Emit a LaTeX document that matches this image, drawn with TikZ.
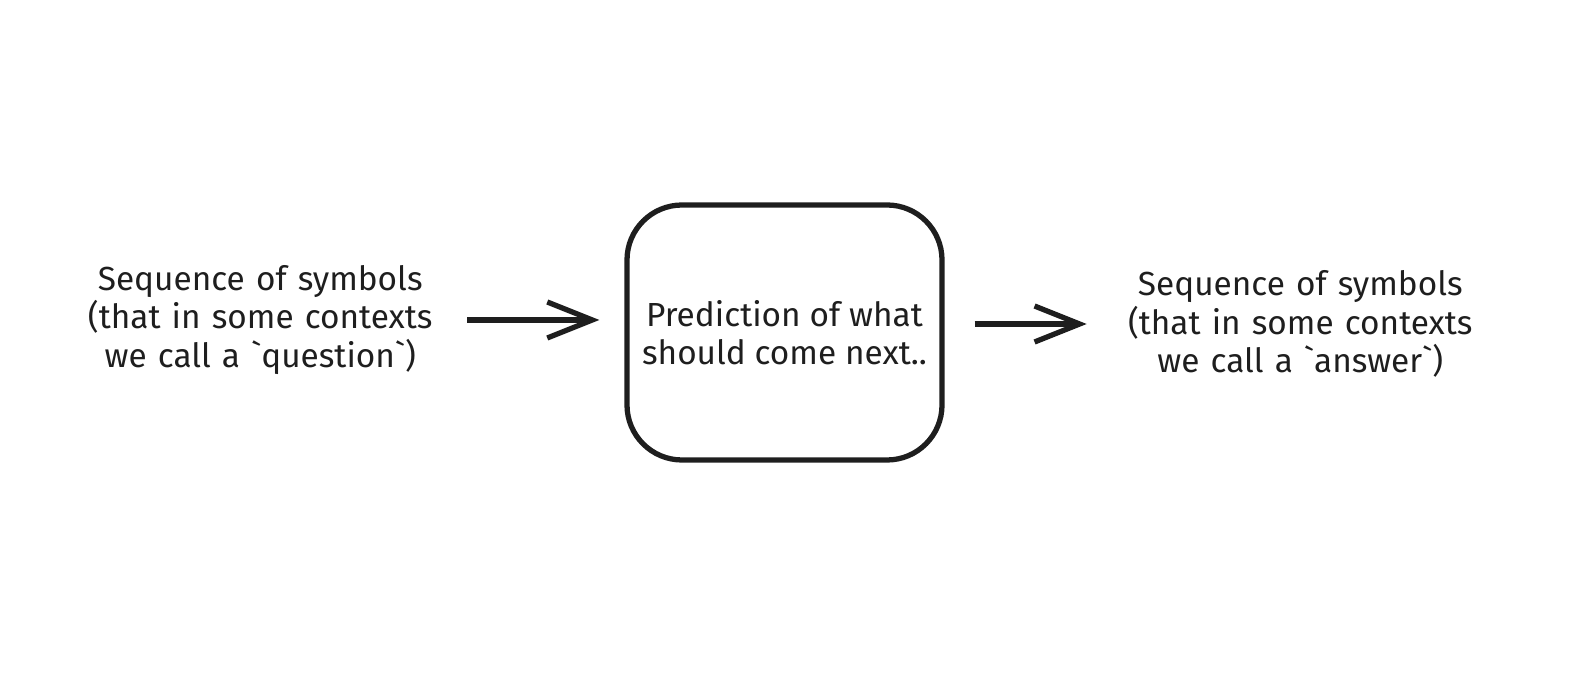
\documentclass[tikz,border=0pt]{standalone}
\usepackage{fontspec}
\setmainfont{Fira Sans}
\usepackage{xcolor}
\usepackage{tikz}
\usetikzlibrary{positioning,arrows.meta}

\definecolor{ink}{HTML}{1E1E1E}

\begin{document}
\begin{tikzpicture}[->,>={Straight Barb[length=0.9cm,width=0.72cm]},line width=3pt,draw=ink,text=ink]

  \useasboundingbox (0,0) rectangle (31.56,13.98);

  % styles
  \tikzstyle{block}=[draw,rounded corners=1.1cm,minimum width=6.3cm,minimum height=5.1cm,inner sep=0pt,align=center,font=\fontsize{19}{21.8}\selectfont]
  \tikzstyle{seqtext}=[text width=7.2cm,inner sep=0pt,align=center,font=\fontsize{19}{21.8}\selectfont]

  % the model
  \node[block] (pbox) at (15.69,7.33) {Prediction of what\\should come next..};

  % input and output
  \node[seqtext,left=3.63cm of pbox,yshift=0.25cm] (qtext) {Sequence of symbols\\(that in some contexts\\we call a \textasciigrave question\textasciigrave)};
  \node[seqtext,right=3.46cm of pbox,yshift=0.17cm] (atext) {Sequence of symbols\\(that in some contexts\\we call a \textasciigrave answer\textasciigrave)};

  % arrows
  \draw[shorten <=0.49cm,shorten >=0.5cm] (qtext.east) -- (qtext.east -| pbox.west);
  \draw[shorten <=0.6cm,shorten >=0.62cm] (pbox.east |- atext.west) -- (atext.west);

\end{tikzpicture}
\end{document}
